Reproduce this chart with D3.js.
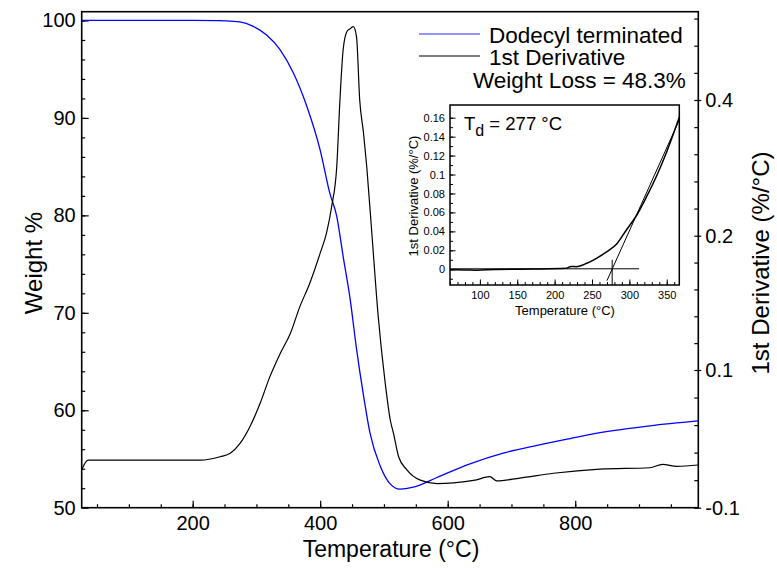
<!DOCTYPE html>
<html>
<head>
<meta charset="utf-8">
<script src="https://cdn.jsdelivr.net/npm/d3@7"></script>
<style>
  body { margin: 0; background: #fff; }
  svg { display: block; font-family: "Liberation Sans", Arial, Helvetica, sans-serif; }
</style>
</head>
<body>
<svg id="chart" width="777" height="569"></svg>
<script>
// weight curve (blue)
const weightTemp = [26, 100, 200, 243, 274, 295, 316, 337, 358, 379, 400, 415, 426, 436, 447, 457, 468, 478, 494, 509, 525, 546, 583, 635, 687, 740, 792, 839, 917, 993];
const weightPct  = [100, 100, 100, 99.98, 99.85, 99.4, 98.5, 97.0, 94.6, 91.2, 86.7, 82.3, 79.9, 75.8, 71.4, 66.3, 61.5, 57.7, 54.3, 52.5, 51.9, 52.1, 53.1, 54.5, 55.6, 56.4, 57.1, 57.7, 58.4, 58.9];

// 1st derivative (black)
const derivTemp = [26, 36, 133, 212, 243, 259, 274, 290, 306, 321, 337, 353, 368, 384, 400, 410, 418, 426, 431, 436, 442, 447, 452, 457, 462, 468, 473, 481, 491, 502, 510, 515, 523, 536, 557, 583, 609, 643, 666, 677, 713, 766, 839, 917, 937, 959, 993];
const derivVal  = [-0.045, -0.031, -0.031, -0.031, -0.026, -0.021, -0.007, 0.018, 0.052, 0.090, 0.112, 0.127, 0.147, 0.165, 0.187, 0.204, 0.243, 0.302, 0.400, 0.474, 0.501, 0.505, 0.508, 0.493, 0.400, 0.351, 0.302, 0.204, 0.140, 0.081, 0.027, 0.008, -0.026, -0.045, -0.060, -0.065, -0.064, -0.060, -0.055, -0.061, -0.057, -0.050, -0.044, -0.042, -0.037, -0.040, -0.038];

// inset: onset of decomposition
const insetTemp = [60, 80, 96, 120, 171, 215, 222, 229, 243, 256, 270, 283, 296, 310, 323, 337, 350, 367];
const insetVal  = [-0.0005, -0.0007, -0.001, -0.0003, 0.0002, 0.001, 0.003, 0.0027, 0.0063, 0.0116, 0.0186, 0.0267, 0.0415, 0.0573, 0.0766, 0.0995, 0.1241, 0.161];
const tangentTemp = [270, 367];
const tangentVal  = [-0.012, 0.158];
const baseTemp = [60, 313];
const baseVal  = [0.0005, 0.0005];
const onsetTemp = 277;

// ticks
const xTicks = [200, 400, 600, 800];
const leftTicks = [50, 60, 70, 80, 90, 100];
const rightTicks = [-0.1, 0.1, 0.2, 0.4];
const insetXTicks = [100, 150, 200, 250, 300, 350];
const insetYTicks = [0, 0.02, 0.04, 0.06, 0.08, 0.1, 0.12, 0.14, 0.16];

const legendNames = ["Dodecyl terminated", "1st Derivative"];
const legendColors = ["#2a2aff", "#000"];

const svg = d3.select("#chart");
const L = 81.7, R = 698.3, T = 11.7, B = 507.7;

const x = d3.scaleLinear().domain([26, 993]).range([L, R]);
const yL = d3.scaleLinear().domain([50, 100.9]).range([B, T]);
// right axis labels are not evenly spaced in the source figure
const yR = d3.scaleLinear().domain(rightTicks).range([B, 370, 235.7, 100]);

function style(g, size) {
  g.select(".domain").remove();
  g.selectAll(".tick line").attr("stroke", "#000").attr("stroke-width", 1.2);
  g.selectAll(".tick text").attr("font-size", size).attr("fill", "#000")
    .attr("font-family", "Liberation Sans, Arial, sans-serif");
}

// bottom axis
svg.append("g").attr("transform", `translate(0,${B})`)
  .call(d3.axisBottom(x).tickValues(d3.range(50, 993, 50)).tickSize(-3.5).tickFormat(""))
  .call(g => style(g, 20));
svg.append("g").attr("transform", `translate(0,${B})`)
  .call(d3.axisBottom(x).tickValues(xTicks).tickSize(-7).tickPadding(8))
  .call(g => style(g, 20));

// left axis
svg.append("g").attr("transform", `translate(${L},0)`)
  .call(d3.axisLeft(yL).tickValues(d3.range(52, 101, 2)).tickSize(-3.5).tickFormat(""))
  .call(g => style(g, 20));
svg.append("g").attr("transform", `translate(${L},0)`)
  .call(d3.axisLeft(yL).tickValues(leftTicks).tickSize(-7).tickPadding(6))
  .call(g => style(g, 20));

// right axis
const rightMinor = [...d3.range(-0.1, 0.099, 0.04), ...d3.range(0.1, 0.199, 0.02), ...d3.range(0.2, 0.53, 0.04)];
svg.append("g").attr("transform", `translate(${R},0)`)
  .call(d3.axisRight(yR).tickValues(rightMinor).tickSize(-4).tickFormat(""))
  .call(g => style(g, 20));
svg.append("g").attr("transform", `translate(${R},0)`)
  .call(d3.axisRight(yR).tickValues(rightTicks).tickSizeInner(3).tickPadding(4).tickFormat(d => String(d)))
  .call(g => style(g, 20));

// frame
svg.append("rect").attr("x", L).attr("y", T).attr("width", R - L).attr("height", B - T)
  .attr("fill", "none").attr("stroke", "#000").attr("stroke-width", 1.6);

// curves
const weight = weightTemp.map((t, i) => [t, weightPct[i]]);
const deriv = derivTemp.map((t, i) => [t, derivVal[i]]);

svg.append("path").datum(weight)
  .attr("fill", "none").attr("stroke", "#0000ff").attr("stroke-width", 1.3)
  .attr("d", d3.line().x(d => x(d[0])).y(d => yL(d[1])).curve(d3.curveMonotoneX));
svg.append("path").datum(deriv)
  .attr("fill", "none").attr("stroke", "#000").attr("stroke-width", 1.2)
  .attr("d", d3.line().x(d => x(d[0])).y(d => yR(d[1])).curve(d3.curveMonotoneX));

// axis titles
svg.append("text").attr("x", 391).attr("y", 557).attr("text-anchor", "middle")
  .attr("font-size", 23).text("Temperature (°C)");
svg.append("text").attr("transform", "translate(42,263) rotate(-90)").attr("text-anchor", "middle")
  .attr("font-size", 24).text("Weight %");
svg.append("text").attr("transform", "translate(769,263) rotate(-90)").attr("text-anchor", "middle")
  .attr("font-size", 24).text("1st Derivative (%/°C)");

// legend
const leg = svg.append("g");
legendNames.forEach((name, i) => {
  const yy = 34 + i * 22;
  leg.append("line").attr("x1", 419).attr("x2", 480).attr("y1", yy).attr("y2", yy)
    .attr("stroke", legendColors[i]).attr("stroke-width", 1.2);
  leg.append("text").attr("x", 489).attr("y", yy + 8.5).attr("font-size", 22.5).text(name);
});
leg.append("text").attr("x", 473).attr("y", 88).attr("font-size", 22.5).text("Weight Loss = 48.3%");

// inset
const ix = d3.scaleLinear().domain([60, 366.8]).range([450, 679.3]);
const iy = d3.scaleLinear().domain([-0.0166, 0.1734]).range([285, 105]);
const inset = svg.append("g");
inset.append("rect").attr("x", 450).attr("y", 105).attr("width", 229.3).attr("height", 180).attr("fill", "#fff");

inset.append("g").attr("transform", "translate(0,285)")
  .call(d3.axisBottom(ix).tickValues(d3.range(60, 366, 10)).tickSize(-3).tickFormat(""))
  .call(g => style(g, 11));
inset.append("g").attr("transform", "translate(0,285)")
  .call(d3.axisBottom(ix).tickValues(insetXTicks).tickSize(-5.5).tickPadding(6))
  .call(g => style(g, 11));
inset.append("g").attr("transform", "translate(450,0)")
  .call(d3.axisLeft(iy).tickValues(d3.range(-0.01, 0.17, 0.01)).tickSize(-3).tickFormat(""))
  .call(g => style(g, 11));
inset.append("g").attr("transform", "translate(450,0)")
  .call(d3.axisLeft(iy).tickValues(insetYTicks).tickSize(-5.5).tickPadding(5)
    .tickFormat(d => d === 0 ? "0" : String(+d.toFixed(2))))
  .call(g => style(g, 11));
inset.selectAll(".tick line").attr("stroke-width", 1);

inset.append("rect").attr("x", 450).attr("y", 105).attr("width", 229.3).attr("height", 180)
  .attr("fill", "none").attr("stroke", "#000").attr("stroke-width", 1.5);

const iline = d3.line().x(d => ix(d[0])).y(d => iy(d[1]));
inset.append("path").datum(baseTemp.map((t, i) => [t, baseVal[i]]))
  .attr("fill", "none").attr("stroke", "#000").attr("stroke-width", 1).attr("d", iline);
inset.append("path").datum(tangentTemp.map((t, i) => [t, tangentVal[i]]))
  .attr("fill", "none").attr("stroke", "#000").attr("stroke-width", 1).attr("d", iline);
inset.append("line").attr("x1", ix(onsetTemp)).attr("x2", ix(onsetTemp))
  .attr("y1", iy(-0.0166)).attr("y2", iy(0.01)).attr("stroke", "#000").attr("stroke-width", 1);
inset.append("path").datum(insetTemp.map((t, i) => [t, insetVal[i]]))
  .attr("fill", "none").attr("stroke", "#000").attr("stroke-width", 1.5)
  .attr("d", iline.curve(d3.curveMonotoneX));

inset.append("text").attr("x", 565).attr("y", 315).attr("text-anchor", "middle")
  .attr("font-size", 13).text("Temperature (°C)");
inset.append("text").attr("transform", "translate(418,196) rotate(-90)").attr("text-anchor", "middle")
  .attr("font-size", 13).text("1st Derivative (%/°C)");

const td = inset.append("text").attr("x", 464).attr("y", 130).attr("font-size", 18.5);
td.append("tspan").text("T");
td.append("tspan").attr("dy", 6).attr("font-size", 16).text("d");
td.append("tspan").attr("dy", -6).text(" = 277 °C");
</script>
</body>
</html>
